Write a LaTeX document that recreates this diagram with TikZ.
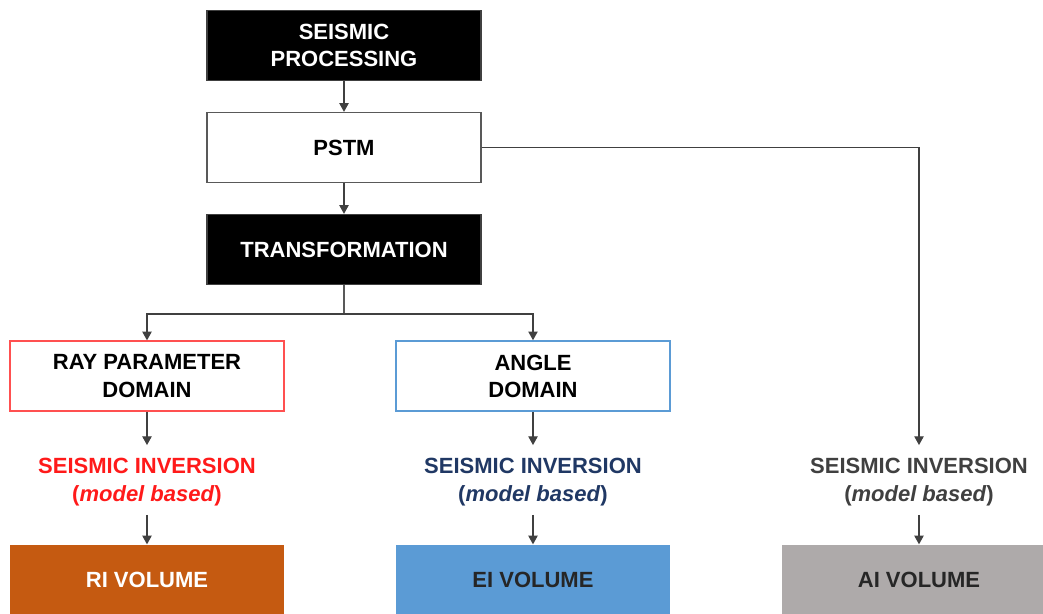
\documentclass[tikz,border=0pt]{standalone}
\usepackage{fontspec}
\setmainfont{Liberation Sans}
\usetikzlibrary{arrows.meta}
\definecolor{rifill}{HTML}{C55A11}
\definecolor{eifill}{HTML}{5B9BD5}
\definecolor{aifill}{HTML}{AEAAAA}
\definecolor{redtxt}{HTML}{FF1A1A}
\definecolor{bluetxt}{HTML}{203864}
\definecolor{greytxt}{HTML}{404040}
\definecolor{redborder}{HTML}{FF5050}
\definecolor{blueborder}{HTML}{5B9BD5}
\begin{document}
\begin{tikzpicture}[x=0.75pt,y=-0.75pt,
  box/.style={minimum width=205.5pt, minimum height=52.5pt, inner sep=0pt, align=center,
              text depth=0pt,
              font=\bfseries\fontsize{16.5}{20.5}\selectfont, line width=1pt},
  blackbox/.style={box, fill=black, draw=black!75, text=white},
  whitebox/.style={box, fill=white, draw=black!65},
  volbox/.style={box, draw=none, minimum height=52.5pt},
  inv/.style={inner sep=0pt, minimum height=52pt, align=center, text depth=0pt,
              font=\bfseries\fontsize{16.5}{21}\selectfont},
  arr/.style={-{Triangle[width=7pt,length=6.5pt]}, line width=0.8pt, draw=black!75},
  ln/.style={line width=0.8pt, draw=black!65}
]
\clip (0,0) rectangle (1043,614);
\fill[white] (0,0) rectangle (1043,614);

\node[blackbox] (sp) at (344,45.5) {SEISMIC\\PROCESSING};
\node[whitebox] (pstm) at (344,147.5) {PSTM};
\node[blackbox] (trans) at (344,249.5) {TRANSFORMATION};

\node[whitebox, draw=redborder] (ray) at (147,376) {RAY PARAMETER\\DOMAIN};
\node[whitebox, draw=blueborder, line width=1.2pt] (angle) at (533,376) {ANGLE\\DOMAIN};

\node[inv, text=redtxt] (inv1) at (147,480) {SEISMIC INVERSION\\(\textit{model based})};
\node[inv, text=bluetxt] (inv2) at (533,480) {SEISMIC INVERSION\\(\textit{model based})};
\node[inv, text=greytxt] (inv3) at (919,480) {SEISMIC INVERSION\\(\textit{model based})};

\node[volbox, fill=rifill, text=white] (ri) at (147,580) {RI VOLUME};
\node[volbox, fill=eifill, text=black!85] (ei) at (533,580) {EI VOLUME};
\node[volbox, fill=aifill, text=black!85] (ai) at (919,580) {AI VOLUME};

\coordinate (br) at (344,314);

\draw[arr] (sp.south) -- (pstm.north);
\draw[arr] (pstm.south) -- (trans.north);
\draw[ln] (trans.south) -- (br);
\draw[arr] (br) -| (ray.north);
\draw[arr] (br) -| (angle.north);
\draw[arr] (pstm.east) -| (inv3.north);

\draw[arr] (ray.south) -- (inv1.north);
\draw[arr] (angle.south) -- (inv2.north);
\draw[arr] (inv1.south) -- (ri.north);
\draw[arr] (inv2.south) -- (ei.north);
\draw[arr] (inv3.south) -- (ai.north);
\end{tikzpicture}
\end{document}
